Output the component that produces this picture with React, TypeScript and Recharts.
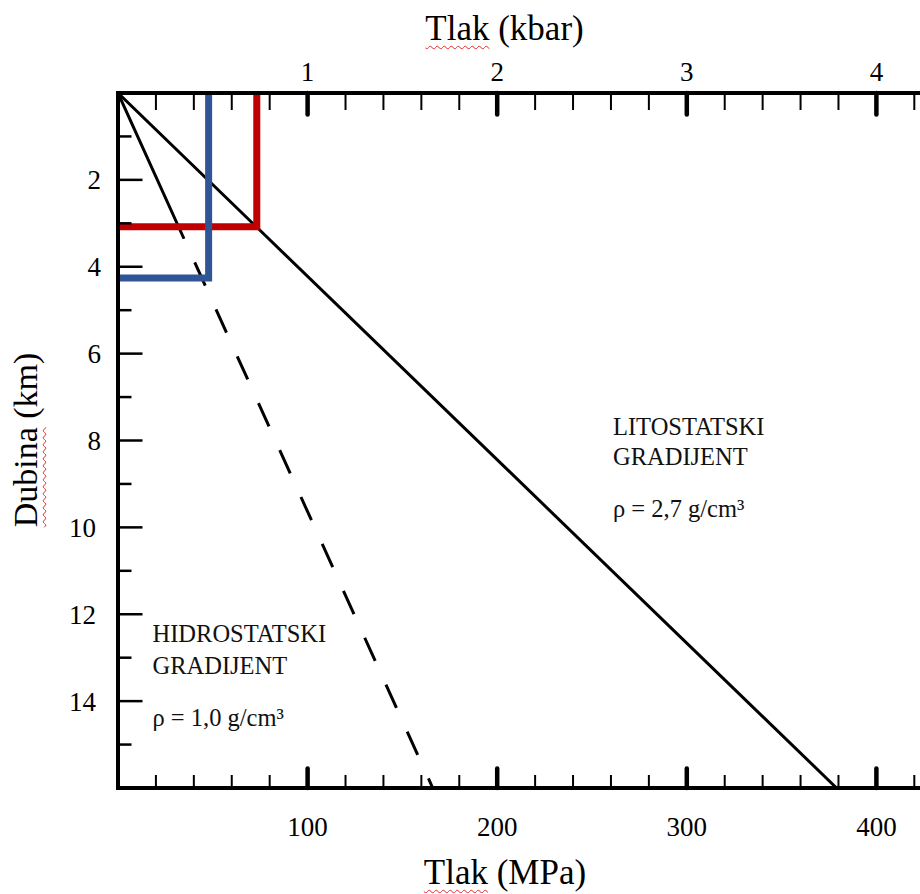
import React, { useLayoutEffect } from 'react';
import { LineChart, Line, XAxis, YAxis } from 'recharts';

const FONT = '"Liberation Serif", "Times New Roman", Times, serif';

// Pressure ticks (MPa) shared by both horizontal axes
const mpaTicks = [20, 40, 60, 80, 100, 120, 140, 160, 180, 200, 220, 240, 260, 280, 300, 320, 340, 360, 380, 400, 420];
const mpaMajor = [100, 200, 300, 400];
const mpaLabels = ['100', '200', '300', '400'];
const kbarLabels = ['1', '2', '3', '4'];

// Depth ticks (km)
const depthTicks = [1, 2, 3, 4, 5, 6, 7, 8, 9, 10, 11, 12, 13, 14, 15];
const depthMajor = [2, 4, 6, 8, 10, 12, 14];
const depthLabels = ['2', '4', '6', '8', '10', '12', '14'];

// Series (pressure in MPa, depth in km)
const lithoPressure = [0, 379];
const lithoDepth = [0, 16];
const hydroPressure = [0, 166];
const hydroDepth = [0, 16];
const redPressure = [0, 73.2, 73.2];
const redDepth = [3.08, 3.08, 0];
const bluePressure = [0, 47.8, 47.8];
const blueDepth = [4.26, 4.26, 0];

const rows = (p: number[], d: number[]) => p.map((v, i) => ({ p: v, d: d[i] }));
const lithoData = rows(lithoPressure, lithoDepth);
const hydroData = rows(hydroPressure, hydroDepth);
const redData = rows(redPressure, redDepth);
const blueData = rows(bluePressure, blueDepth);

const hydroDash = ['160'].concat(Array(14).fill('26 25.5')).join(' ');

const TopTick = (props: any) => {
  const { x, y, payload } = props;
  const v = payload.value;
  const mi = mpaMajor.indexOf(v);
  const major = mi >= 0;
  return (
    <g>
      <line
        x1={x}
        x2={x}
        y1={y}
        y2={y + (major ? 21.5 : 17)}
        stroke="#000"
        strokeWidth={major ? 4.5 : 2}
        strokeLinecap={major ? 'round' : 'butt'}
      />
      {major && (
        <text x={x} y={y - 12} textAnchor="middle" fontSize={27} fontFamily={FONT} fill="#000">
          {kbarLabels[mi]}
        </text>
      )}
    </g>
  );
};

const BottomTick = (props: any) => {
  const { x, y, payload } = props;
  const v = payload.value;
  const mi = mpaMajor.indexOf(v);
  const major = mi >= 0;
  return (
    <g>
      <line
        x1={x}
        x2={x}
        y1={y}
        y2={y - (major ? 19.5 : 13)}
        stroke="#000"
        strokeWidth={major ? 4.5 : 2}
        strokeLinecap={major ? 'round' : 'butt'}
      />
      {major && (
        <text x={x} y={y + 47.5} textAnchor="middle" fontSize={27} fontFamily={FONT} fill="#000">
          {mpaLabels[mi]}
        </text>
      )}
    </g>
  );
};

const LeftTick = (props: any) => {
  const { x, y, payload } = props;
  const v = payload.value;
  const mi = depthMajor.indexOf(v);
  const major = mi >= 0;
  const label = major ? depthLabels[mi] : '';
  const rightEdge = label.length > 1 ? x - 22 : x - 17;
  return (
    <g>
      <line x1={x} x2={x + (major ? 24.5 : 13.5)} y1={y} y2={y} stroke="#000" strokeWidth={2.5} />
      {major && (
        <text x={rightEdge} y={y + 9.5} textAnchor="end" fontSize={27} fontFamily={FONT} fill="#000">
          {label}
        </text>
      )}
    </g>
  );
};

const wavy: React.CSSProperties = {
  textDecorationLine: 'underline',
  textDecorationStyle: 'wavy',
  textDecorationColor: '#e32b2b',
  textDecorationThickness: '1.2px',
  textUnderlineOffset: '5px',
};

const titleStyle: React.CSSProperties = {
  position: 'absolute',
  fontFamily: FONT,
  fontSize: 35,
  lineHeight: '35px',
  color: '#000',
  whiteSpace: 'nowrap',
  textAlign: 'center',
  width: 400,
};

const annStyle = { fontFamily: FONT, fontSize: 24.5, fill: '#111' };

export default function App() {
  useLayoutEffect(() => {
    document.body.style.margin = '0';
  }, []);
  return (
    <div style={{ position: 'relative', width: 920, height: 894, overflow: 'hidden', background: '#fff' }}>
      <div style={{ position: 'absolute', left: 8, top: 8, width: 912, height: 886 }}>
        <LineChart width={912} height={886} margin={{ top: 0, right: 0, bottom: 0, left: 0 }}>
          <XAxis
            xAxisId="kbar"
            orientation="top"
            type="number"
            dataKey="p"
            domain={[0, 423]}
            allowDataOverflow
            ticks={mpaTicks}
            interval={0}
            height={85}
            tickSize={0}
            tickMargin={0}
            tickLine={false}
            tick={<TopTick />}
            axisLine={{ stroke: '#000', strokeWidth: 4, strokeLinecap: 'square' }}
          />
          <XAxis
            xAxisId="mpa"
            orientation="bottom"
            type="number"
            dataKey="p"
            domain={[0, 423]}
            allowDataOverflow
            ticks={mpaTicks}
            interval={0}
            height={106}
            tickSize={0}
            tickMargin={0}
            tickLine={false}
            tick={<BottomTick />}
            axisLine={{ stroke: '#000', strokeWidth: 4, strokeLinecap: 'square' }}
          />
          <YAxis
            type="number"
            domain={[0, 16]}
            reversed
            allowDataOverflow
            ticks={depthTicks}
            interval={0}
            width={110}
            tickSize={0}
            tickMargin={0}
            tickLine={false}
            tick={<LeftTick />}
            axisLine={{ stroke: '#000', strokeWidth: 4, strokeLinecap: 'square' }}
          />
          <Line
            xAxisId="mpa"
            data={lithoData}
            dataKey="d"
            type="linear"
            stroke="#000"
            strokeWidth={3}
            dot={false}
            activeDot={false}
            isAnimationActive={false}
          />
          <Line
            xAxisId="mpa"
            data={hydroData}
            dataKey="d"
            type="linear"
            stroke="#000"
            strokeWidth={3}
            strokeDasharray={hydroDash}
            dot={false}
            activeDot={false}
            isAnimationActive={false}
          />
          <Line
            xAxisId="mpa"
            data={redData}
            dataKey="d"
            type="linear"
            stroke="#c00000"
            strokeWidth={7}
            strokeLinejoin="miter"
            dot={false}
            activeDot={false}
            isAnimationActive={false}
          />
          <Line
            xAxisId="mpa"
            data={blueData}
            dataKey="d"
            type="linear"
            stroke="#2f5597"
            strokeWidth={7}
            strokeLinejoin="miter"
            dot={false}
            activeDot={false}
            isAnimationActive={false}
          />
        </LineChart>

        <svg
          width={912}
          height={886}
          style={{ position: 'absolute', left: 0, top: 0, pointerEvents: 'none' }}
        >
          <text x={605} y={427} {...annStyle}>LITOSTATSKI</text>
          <text x={605} y={457} {...annStyle}>GRADIJENT</text>
          <text x={605} y={509} {...annStyle}>ρ = 2,7 g/cm³</text>
          <text x={144.5} y={634} {...annStyle}>HIDROSTATSKI</text>
          <text x={144.5} y={666} {...annStyle}>GRADIJENT</text>
          <text x={144.5} y={718} {...annStyle}>ρ = 1,0 g/cm³</text>
        </svg>

        <div style={{ ...titleStyle, left: 296.5, top: 2.7 }}>
          <span style={wavy}>Tlak</span> (kbar)
        </div>
        <div style={{ ...titleStyle, left: 297, top: 846.7 }}>
          <span style={wavy}>Tlak</span> (MPa)
        </div>
        <div
          style={{
            ...titleStyle,
            fontSize: 34,
            lineHeight: '34px',
            width: 300,
            left: 0.5,
            top: 582,
            transformOrigin: '0 0',
            transform: 'rotate(-90deg)',
          }}
        >
          <span style={wavy}>Dubina</span> (km)
        </div>
      </div>
    </div>
  );
}
